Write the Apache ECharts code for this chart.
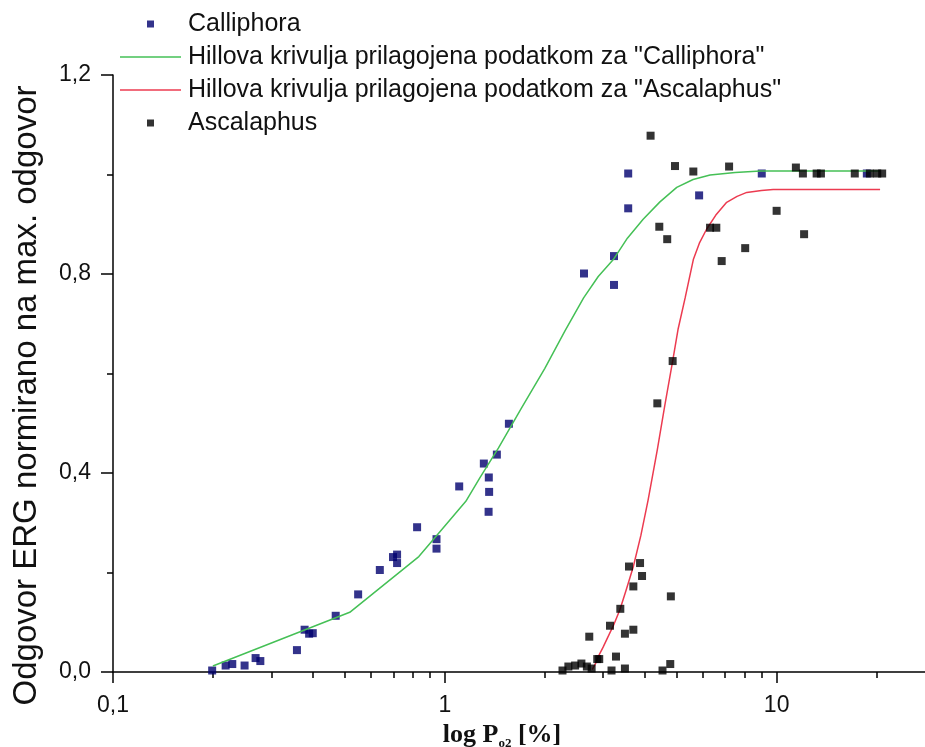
<!DOCTYPE html>
<html>
<head>
<meta charset="utf-8">
<script src="https://cdn.jsdelivr.net/npm/echarts@6/dist/echarts.min.js"></script>
<style>
html,body{margin:0;padding:0;background:#fff;}
#chart{width:925px;height:747px;}
</style>
</head>
<body>
<div id="chart"></div>
<script>
// ---- data ----
const calliX = [0.199,0.2185,0.2288,0.2492,0.269,0.278,0.3584,0.378,0.39,0.40,0.469,0.548,0.637,0.698,0.718,0.718,0.825,0.944,0.944,1.105,1.311,1.357,1.36,1.355,1.435,1.56,2.627,3.235,3.235,3.57,3.57,5.84,9.02,18.7];
const calliY = [0.003,0.013,0.016,0.013,0.028,0.022,0.044,0.085,0.077,0.078,0.113,0.156,0.205,0.231,0.236,0.219,0.291,0.267,0.248,0.373,0.419,0.391,0.362,0.322,0.437,0.499,0.801,0.836,0.778,1.002,0.932,0.958,1.002,1.002];

const ascX = [2.263,2.357,2.47,2.58,2.68,2.77,2.725,2.88,2.92,3.28,3.146,3.38,3.18,3.49,3.49,3.70,3.70,3.59,3.876,3.93,4.80,4.78,4.53,4.37,4.86,4.17,4.43,4.68,4.94,5.61,6.3,6.58,6.83,7.19,8.04,10.0,11.43,12.0,12.1,13.2,13.6,17.2,19.1,20.1,20.8];
const ascY = [0.003,0.011,0.013,0.017,0.011,0.007,0.071,0.026,0.026,0.031,0.093,0.127,0.003,0.007,0.077,0.085,0.172,0.212,0.219,0.193,0.152,0.016,0.003,0.54,0.625,1.078,0.895,0.87,1.017,1.006,0.893,0.893,0.826,1.016,0.852,0.927,1.014,1.002,0.88,1.002,1.002,1.002,1.002,1.002,1.002];

const hillCalliX = [0.2,0.517,0.835,0.922,1.157,1.275,1.45,1.7,2.0,2.3,2.62,2.9,3.22,3.55,3.96,4.45,5.0,5.6,6.3,7.5,8.94,12,20.5];
const hillCalliY = [0.012,0.12,0.232,0.266,0.343,0.39,0.45,0.53,0.61,0.685,0.752,0.795,0.829,0.872,0.91,0.945,0.974,0.99,0.999,1.004,1.007,1.007,1.007];

const hillAscX = [2.78,2.85,2.9,3.0,3.1,3.23,3.37,3.52,3.7,3.9,4.1,4.37,4.6,4.86,5.05,5.3,5.61,5.85,6.15,6.55,7.07,7.6,8.13,9.0,9.76,20.5];
const hillAscY = [0.005,0.018,0.031,0.05,0.07,0.095,0.125,0.165,0.212,0.275,0.346,0.447,0.535,0.625,0.69,0.752,0.829,0.862,0.89,0.918,0.944,0.956,0.964,0.968,0.97,0.97];

const xMajorTicks = [0.1,1,10];
const xMinorTicks = [0.2,0.3,0.4,0.5,0.6,0.7,0.8,0.9,2,3,4,5,6,7,8,9,20];

const nameCalli = 'Calliphora';
const nameAsc = 'Ascalaphus';
const nameHillCalli = 'Hillova krivulja prilagojena podatkom za "Calliphora"';
const nameHillAsc = 'Hillova krivulja prilagojena podatkom za "Ascalaphus"';

const zip = (xs, ys) => xs.map((x, i) => [x, ys[i]]);
const comma = v => String(v).replace('.', ',');

const chart = echarts.init(document.getElementById('chart'));
const sq = 'path://M0,0H10V10H0Z';
const ln = 'path://M0,0H61V1.5H0Z';
const font = 'Liberation Sans, Arial, sans-serif';

chart.setOption({
  animation: false,
  backgroundColor: '#fff',
  grid: {left: 113, right: 0, top: 75, bottom: 75, outerBoundsMode: 'none', containLabel: false},
  legend: {
    orient: 'vertical', left: 120, top: 10, padding: 0,
    itemWidth: 61, itemHeight: 7, itemGap: 5,
    textStyle: {fontSize: 25, lineHeight: 28, fontFamily: font, color: '#111', padding: [0,0,0,2]},
    data: [
      {name: nameCalli, icon: sq},
      {name: nameHillCalli, icon: ln},
      {name: nameHillAsc, icon: ln},
      {name: nameAsc, icon: sq}
    ]
  },
  xAxis: [{
    type: 'log', logBase: 10, min: 0.1, max: 28,
    name: '{a|log P}{b|o2}{a| [%]}',
    nameLocation: 'middle', nameGap: 47,
    nameTextStyle: {
      padding: [0, 34, 0, 0],
      rich: {
        a: {fontFamily: 'Liberation Serif, Times New Roman, serif', fontWeight: 'bold', fontSize: 26, color: '#111', lineHeight: 30},
        b: {fontFamily: 'Liberation Serif, Times New Roman, serif', fontWeight: 'bold', fontSize: 13, color: '#111', lineHeight: 14, verticalAlign: 'bottom'}
      }
    },
    axisLine: {show: true, lineStyle: {color: '#000', width: 1.5}},
    axisTick: {show: true, length: 11, customValues: xMajorTicks, lineStyle: {color: '#000', width: 1.5}},
    axisLabel: {customValues: xMajorTicks, formatter: v => comma(v), fontSize: 23, fontFamily: font, color: '#111', margin: 22},
    splitLine: {show: false}
  }, {
    type: 'log', logBase: 10, min: 0.1, max: 28, gridIndex: 0, position: 'bottom',
    axisLine: {show: false},
    axisTick: {show: true, length: 6, customValues: xMinorTicks, lineStyle: {color: '#000', width: 1.5}},
    axisLabel: {show: false},
    splitLine: {show: false}
  }],
  yAxis: {
    type: 'value', min: 0, max: 1.2, interval: 0.4,
    name: 'Odgovor ERG normirano na max. odgovor',
    nameLocation: 'middle', nameGap: 70,
    nameTextStyle: {fontSize: 33, fontFamily: font, color: '#111', padding: [0, 44, 0, 0]},
    axisLine: {show: true, lineStyle: {color: '#000', width: 1.5}},
    axisTick: {show: true, length: 12, lineStyle: {color: '#000', width: 1.5}},
    minorTick: {show: true, splitNumber: 2, length: 6, lineStyle: {color: '#000', width: 1.5}},
    axisLabel: {formatter: v => v.toFixed(1).replace('.', ','), fontSize: 23, fontFamily: font, color: '#111', margin: 22},
    splitLine: {show: false},
    minorSplitLine: {show: false}
  },
  series: [
    {name: nameCalli, type: 'scatter', symbol: 'rect', symbolSize: 8,
     itemStyle: {color: '#00006e'}, data: zip(calliX, calliY), z: 2},
    {name: nameHillCalli, type: 'line', symbol: 'none', showSymbol: false,
     lineStyle: {color: '#45c056', width: 1.5}, itemStyle: {color: '#45c056'},
     data: zip(hillCalliX, hillCalliY), z: 3},
    {name: nameHillAsc, type: 'line', symbol: 'none', showSymbol: false,
     lineStyle: {color: '#ec3b50', width: 1.5}, itemStyle: {color: '#ec3b50'},
     data: zip(hillAscX, hillAscY), z: 3},
    {name: nameAsc, type: 'scatter', symbol: 'rect', symbolSize: 8,
     itemStyle: {color: '#000'}, data: zip(ascX, ascY), z: 4}
  ]
});
</script>
</body>
</html>
